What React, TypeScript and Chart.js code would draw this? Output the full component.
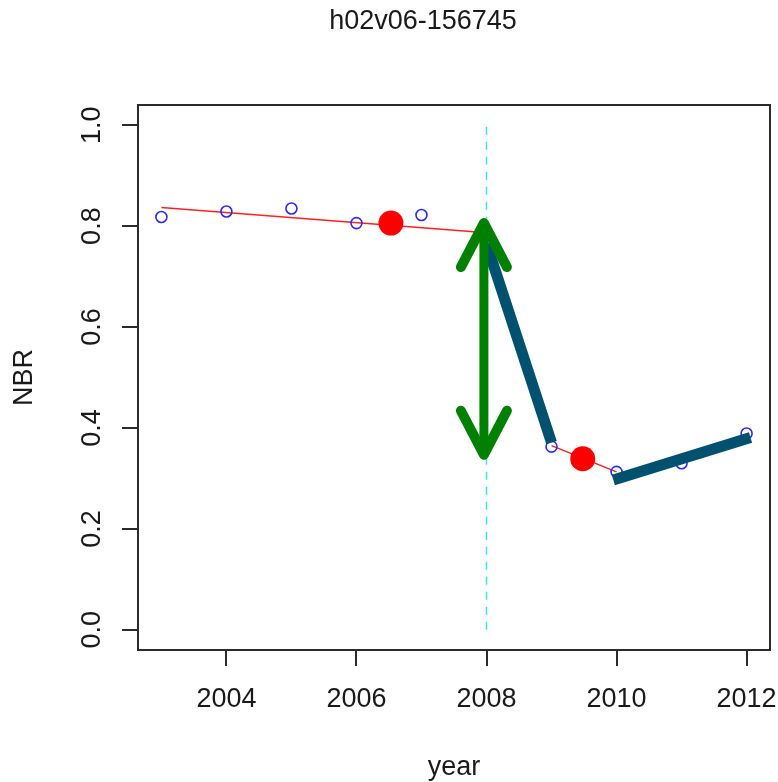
import React, { useEffect, useRef } from 'react';
import { Chart, registerables } from 'chart.js';

Chart.register(...registerables);

const chartTitle = 'h02v06-156745';
const xAxisTitle = 'year';
const yAxisTitle = 'NBR';

const obsYears = [2003, 2004, 2005, 2006, 2007, 2009, 2010, 2011, 2012];
const obsNbr = [0.818, 0.829, 0.835, 0.806, 0.822, 0.363, 0.313, 0.330, 0.389];

const fit1Years = [2003, 2008];
const fit1Nbr = [0.837, 0.787];
const fit2Years = [2009, 2010];
const fit2Nbr = [0.365, 0.313];

const breakYears = [2006.53, 2009.48];
const breakNbr = [0.806, 0.339];

const dropYears = [2008, 2009];
const dropNbr = [0.765, 0.371];
const recoveryYears = [2009.95, 2012.06];
const recoveryNbr = [0.297, 0.381];

const disturbanceYear = 2008;
const disturbanceRange = [0, 1];

const arrowYear = 2007.96;
const arrowTop = 0.81;
const arrowBottom = 0.343;

const xTicks = [2004, 2006, 2008, 2010, 2012];
const yTicks = [0.0, 0.2, 0.4, 0.6, 0.8, 1.0];
const yTickLabels = ['0.0', '0.2', '0.4', '0.6', '0.8', '1.0'];

const xMin = 2003, xMax = 2012;
const yMin = 0, yMax = 1;

const pts = (xs: number[], ys: number[]) => xs.map((x, i) => ({ x, y: ys[i] }));

const FONT = '"Liberation Sans", Arial, sans-serif';

const decorPlugin = {
  id: 'decor',
  afterDatasetsDraw(chart: any) {
    const { ctx } = chart;
    const xs = chart.scales.x;
    const ys = chart.scales.y;
    const ax = xs.getPixelForValue(arrowYear);
    const aTop = ys.getPixelForValue(arrowTop);
    const aBot = ys.getPixelForValue(arrowBottom);
    ctx.save();
    ctx.strokeStyle = '#008000';
    ctx.lineCap = 'round';
    ctx.lineJoin = 'round';
    ctx.lineWidth = 9;
    ctx.beginPath();
    ctx.moveTo(ax, aTop + 4);
    ctx.lineTo(ax, aBot - 4);
    ctx.stroke();
    ctx.lineWidth = 10;
    ctx.beginPath();
    ctx.moveTo(ax - 23, aTop + 46);
    ctx.lineTo(ax, aTop + 2);
    ctx.lineTo(ax + 23, aTop + 46);
    ctx.stroke();
    ctx.beginPath();
    ctx.moveTo(ax - 23, aBot - 46);
    ctx.lineTo(ax, aBot - 2);
    ctx.lineTo(ax + 23, aBot - 46);
    ctx.stroke();
    ctx.restore();
  },
  afterDraw(chart: any) {
    const { ctx, chartArea } = chart;
    const xs = chart.scales.x;
    const ys = chart.scales.y;
    ctx.save();
    ctx.strokeStyle = '#2b2b2b';
    ctx.lineWidth = 2;
    ctx.strokeRect(chartArea.left, chartArea.top, chartArea.right - chartArea.left, chartArea.bottom - chartArea.top);
    ctx.lineWidth = 2;
    ctx.beginPath();
    xTicks.forEach((t) => {
      const px = Math.round(xs.getPixelForValue(t));
      ctx.moveTo(px, chartArea.bottom);
      ctx.lineTo(px, chartArea.bottom + 16);
    });
    yTicks.forEach((t) => {
      const py = Math.round(ys.getPixelForValue(t));
      ctx.moveTo(chartArea.left, py);
      ctx.lineTo(chartArea.left - 16, py);
    });
    ctx.stroke();
    ctx.fillStyle = '#1a1a1a';
    ctx.font = `27px ${FONT}`;
    ctx.textAlign = 'center';
    ctx.textBaseline = 'middle';
    xTicks.forEach((t) => {
      ctx.fillText(String(t), xs.getPixelForValue(t), 700);
    });
    yTicks.forEach((t, i) => {
      ctx.save();
      ctx.translate(93, ys.getPixelForValue(t));
      ctx.rotate(-Math.PI / 2);
      ctx.fillText(yTickLabels[i], 0, 0);
      ctx.restore();
    });
    ctx.fillText(chartTitle, 423, 22);
    ctx.fillText(xAxisTitle, (chartArea.left + chartArea.right) / 2, 768);
    ctx.save();
    ctx.translate(25, (chartArea.top + chartArea.bottom) / 2);
    ctx.rotate(-Math.PI / 2);
    ctx.fillText(yAxisTitle, 0, 0);
    ctx.restore();
    ctx.restore();
  },
};

export default function App() {
  const ref = useRef<HTMLCanvasElement | null>(null);
  useEffect(() => {
    document.body.style.margin = '0';
    const canvas = ref.current;
    if (!canvas) return;
    const xPad = (xMax - xMin) * 0.04;
    const yPad = (yMax - yMin) * 0.04;
    const chart = new Chart(canvas, {
      type: 'scatter',
      data: {
        datasets: [
          {
            data: pts(dropYears, dropNbr),
            showLine: true,
            borderColor: '#005070',
            borderWidth: 11,
            borderCapStyle: 'butt',
            pointRadius: 0,
            order: 1,
          },
          {
            data: pts(recoveryYears, recoveryNbr),
            showLine: true,
            borderColor: '#005070',
            borderWidth: 11,
            borderCapStyle: 'butt',
            pointRadius: 0,
            order: 1,
          },
          {
            data: pts([disturbanceYear, disturbanceYear], disturbanceRange),
            showLine: true,
            borderColor: '#3ee3f2',
            borderWidth: 1.5,
            borderDash: [8, 7],
            pointRadius: 0,
            order: 2,
          },
          {
            data: pts(breakYears, breakNbr),
            showLine: false,
            pointRadius: 12.5,
            pointBackgroundColor: '#ff0000',
            pointBorderColor: '#ff0000',
            pointBorderWidth: 0,
            order: 3,
          },
          {
            data: pts(obsYears, obsNbr),
            showLine: false,
            pointRadius: 5.5,
            pointBackgroundColor: 'rgba(0,0,0,0)',
            pointBorderColor: '#2a2aff',
            pointBorderWidth: 1.6,
            order: 4,
          },
          {
            data: pts(fit1Years, fit1Nbr),
            showLine: true,
            borderColor: '#ff2020',
            borderWidth: 1.5,
            pointRadius: 0,
            order: 5,
          },
          {
            data: pts(fit2Years, fit2Nbr),
            showLine: true,
            borderColor: '#ff2020',
            borderWidth: 1.5,
            pointRadius: 0,
            order: 5,
          },
        ],
      },
      options: {
        animation: false,
        responsive: false,
        maintainAspectRatio: false,
        events: [],
        layout: { autoPadding: false, padding: { left: 138, top: 105, right: 8, bottom: 132 } },
        plugins: { legend: { display: false }, tooltip: { enabled: false }, title: { display: false } },
        scales: {
          x: { type: 'linear', display: false, min: xMin - xPad, max: xMax + xPad },
          y: { type: 'linear', display: false, min: yMin - yPad, max: yMax + yPad },
        },
      },
      plugins: [decorPlugin],
    } as any);
    return () => chart.destroy();
  }, []);
  return (
    <div style={{ width: 778, height: 782, background: '#fff' }}>
      <canvas ref={ref} width={778} height={782} style={{ display: 'block' }} />
    </div>
  );
}
